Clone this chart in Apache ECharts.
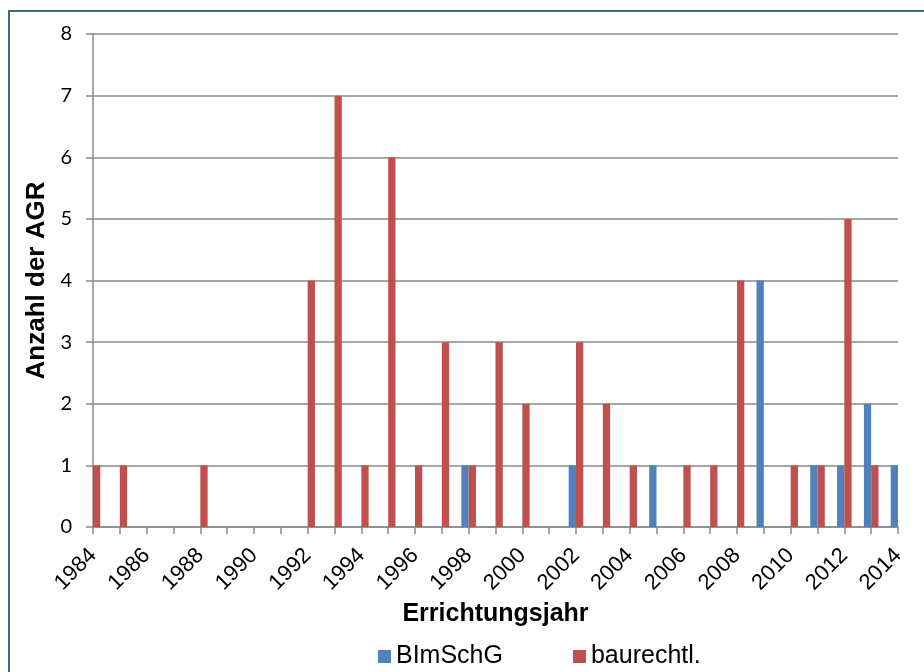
<!DOCTYPE html>
<html>
<head>
<meta charset="utf-8">
<script src="https://cdn.jsdelivr.net/npm/echarts@6/dist/echarts.min.js"></script>
<style>
  html, body { margin: 0; padding: 0; background: #fff; }
  .wrap { position: relative; width: 924px; height: 672px; overflow: hidden; }
  #main { width: 924px; height: 672px; }
  .frame {
    position: absolute; left: 8px; top: 10px; width: 940px; height: 700px;
    border-left: 2px solid #3e6a80; border-top: 2px solid #3e6a80;
    pointer-events: none;
  }
</style>
</head>
<body>
<div class="wrap">
  <div id="main"></div>
  <div class="frame"></div>
</div>
<script>
// Errichtungsjahr (Kategorien)
const years = ['1984', '1985', '1986', '1987', '1988', '1989', '1990', '1991', '1992', '1993',
  '1994', '1995', '1996', '1997', '1998', '1999', '2000', '2001', '2002', '2003',
  '2004', '2005', '2006', '2007', '2008', '2009', '2010', '2011', '2012', '2013', '2014']
// Anzahl der AGR je Jahr
const bimschg = [0, 0, 0, 0, 0, 0, 0, 0, 0, 0,
  0, 0, 0, 0, 1, 0, 0, 0, 1, 0,
  0, 1, 0, 0, 0, 4, 0, 1, 1, 2, 1]
const baurecht = [1, 1, 0, 0, 1, 0, 0, 0, 4, 7,
  1, 6, 1, 3, 1, 3, 2, 0, 3, 2,
  1, 0, 1, 1, 4, 0, 1, 1, 5, 1, 0]
const seriesNames = ['BImSchG', 'baurechtl.']
const yTicks = { min: 0, max: 8, interval: 1 }

const myChart = echarts.init(document.getElementById('main'))
const gridColor = '#8a8a8a'

const option = {
  animation: false,
  color: ['#4f81bd', '#c0504d'],
  grid: { left: 93, right: 26, top: 34, bottom: 145 },
  legend: {
    data: seriesNames,
    left: 373,
    top: 639,
    itemWidth: 13,
    itemHeight: 13,
    itemGap: 70,
    icon: 'rect',
    textStyle: { fontFamily: 'Liberation Sans', fontSize: 25, color: '#000' }
  },
  xAxis: {
    type: 'category',
    data: years,
    boundaryGap: false,
    name: 'Errichtungsjahr',
    nameLocation: 'middle',
    nameGap: 74,
    nameTextStyle: { fontFamily: 'Liberation Sans', fontWeight: 'bold', fontSize: 25, color: '#000' },
    axisLine: { lineStyle: { color: gridColor, width: 1.5 } },
    axisTick: { show: true, interval: 0, length: 7, lineStyle: { color: gridColor, width: 1.5 } },
    axisLabel: {
      interval: 1,
      rotate: 45,
      margin: 25,
      fontFamily: 'Liberation Sans',
      fontSize: 22,
      color: '#000'
    },
    splitLine: { show: false }
  },
  yAxis: {
    type: 'value',
    min: yTicks.min,
    max: yTicks.max,
    interval: yTicks.interval,
    name: 'Anzahl der AGR',
    nameLocation: 'middle',
    nameGap: 40,
    nameTextStyle: { fontFamily: 'Liberation Sans', fontWeight: 'bold', fontSize: 26, color: '#000' },
    axisLine: { show: true, lineStyle: { color: gridColor, width: 1.5 } },
    axisTick: { show: true, length: 7, lineStyle: { color: gridColor, width: 1.5 } },
    axisLabel: { margin: 21, fontFamily: 'Lato', fontSize: 20, color: '#000' },
    splitLine: { lineStyle: { color: gridColor, width: 1.5 } }
  },
  series: [
    {
      name: seriesNames[0],
      type: 'bar',
      data: bimschg,
      barWidth: 7.3,
      barGap: '0%',
      clip: true
    },
    {
      name: seriesNames[1],
      type: 'bar',
      data: baurecht,
      barWidth: 7.3,
      barGap: '0%',
      clip: true
    }
  ]
}

myChart.setOption(option)
</script>
</body>
</html>
